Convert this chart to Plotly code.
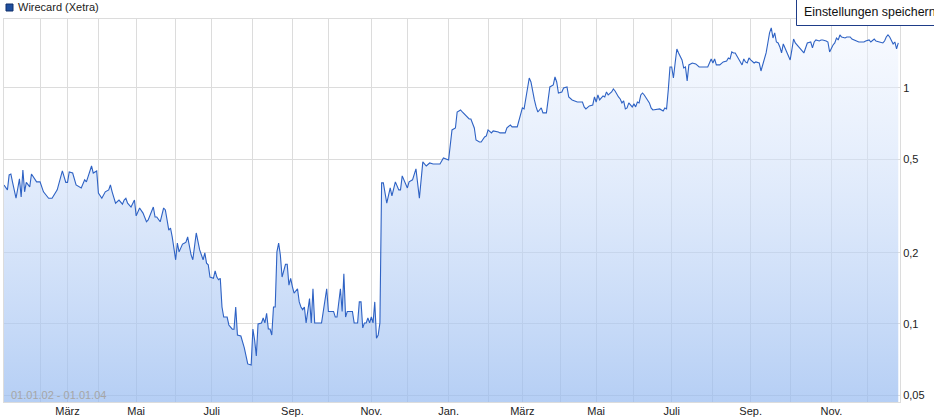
import math
import plotly.graph_objects as go

# ---------------- data ----------------
series_name = "Wirecard (Xetra)"
period_label = "01.01.02 - 01.01.04"
button_label = "Einstellungen speichern"

# trading-session number (0 = first session of 2002) and closing price in EUR
session = [0, 2, 3, 4, 5, 7, 9, 10, 11, 12, 13, 15, 16, 19, 21, 23, 26, 28, 31, 34, 36, 37, 38, 40, 42,
           45, 47, 48, 51, 52, 54, 55, 57, 59, 61, 62, 63, 65, 67, 69, 70, 71, 72, 74, 76, 77, 79, 81, 83,
           84, 87, 88, 89, 91, 93, 94, 95, 96, 97, 98, 100, 101, 102, 104, 105, 106, 107, 109, 110, 112,
           114, 116, 117, 118, 119, 120, 122, 123, 124, 125, 126, 127, 128, 130, 131, 133, 134, 135, 136,
           138, 140, 142, 144, 145, 146, 147, 148, 150, 151, 152, 153, 154, 155, 156, 157, 158, 159, 160,
           161, 162, 164, 165, 166, 167, 168, 169, 171, 172, 173, 174, 175, 176, 178, 179, 180, 181, 185,
           188, 189, 192, 193, 194, 196, 197, 198, 199, 200, 203, 204, 206, 207, 208, 209, 210, 211, 212,
           213, 214, 215, 216, 217, 218, 219, 220, 221, 223, 225, 226, 228, 230, 231, 232, 235, 236, 238,
           240, 242, 244, 246, 248, 250, 254, 256, 259, 261, 263, 264, 266, 267, 270, 271, 272, 274, 275,
           277, 278, 280, 281, 282, 284, 285, 288, 289, 292, 293, 295, 296, 299, 300, 302, 303, 304, 306,
           307, 308, 309, 310, 311, 313, 314, 316, 317, 318, 320, 321, 322, 323, 325, 326, 328, 329, 331,
           334, 337, 338, 339, 341, 343, 344, 345, 346, 347, 349, 350, 351, 352, 354, 355, 356, 358, 359,
           360, 361, 362, 363, 364, 366, 367, 368, 369, 370, 371, 372, 373, 374, 376, 377, 378, 382, 384,
           385, 386, 387, 388, 389, 390, 391, 392, 393, 395, 396, 397, 398, 399, 401, 403, 405, 407, 410,
           412, 413, 414, 415, 417, 419, 421, 422, 423, 424, 425, 426, 427, 429, 430, 431, 432, 433, 434,
           435, 436, 437, 438, 440, 441, 442, 444, 445, 446, 447, 448, 449, 450, 451, 452, 453, 454, 455,
           456, 458, 459, 460, 461, 462, 464, 465, 466, 468, 470, 471, 472, 473, 475, 476, 477, 479, 480,
           481, 482, 483, 484, 485, 486, 487, 488, 490, 491, 493, 494, 497, 498, 501, 502, 504, 505, 507,
           508, 510, 512, 513, 514, 515, 516, 518, 519, 520, 521]

price = [0.388, 0.370, 0.428, 0.432, 0.398, 0.341, 0.412, 0.345, 0.449, 0.363, 0.398, 0.381, 0.432,
         0.400, 0.400, 0.363, 0.341, 0.341, 0.370, 0.445, 0.398, 0.398, 0.441, 0.436, 0.388, 0.377,
         0.408, 0.400, 0.467, 0.436, 0.445, 0.359, 0.341, 0.363, 0.370, 0.388, 0.363, 0.325, 0.335,
         0.322, 0.335, 0.341, 0.325, 0.313, 0.335, 0.287, 0.310, 0.295, 0.271, 0.276, 0.313, 0.284,
         0.284, 0.271, 0.310, 0.304, 0.276, 0.250, 0.255, 0.234, 0.187, 0.220, 0.202, 0.218, 0.220,
         0.222, 0.234, 0.196, 0.187, 0.243, 0.206, 0.187, 0.200, 0.181, 0.178, 0.158, 0.156, 0.168,
         0.158, 0.154, 0.156, 0.118, 0.107, 0.107, 0.099, 0.095, 0.095, 0.118, 0.0898, 0.0889, 0.0792,
         0.0677, 0.0670, 0.0952, 0.0855, 0.0732, 0.100, 0.101, 0.106, 0.101, 0.111, 0.0952, 0.0952,
         0.0898, 0.118, 0.118, 0.202, 0.220, 0.196, 0.158, 0.179, 0.179, 0.146, 0.156, 0.144, 0.135,
         0.141, 0.124, 0.118, 0.115, 0.118, 0.101, 0.128, 0.101, 0.141, 0.101, 0.101, 0.141, 0.113,
         0.113, 0.107, 0.107, 0.141, 0.113, 0.163, 0.107, 0.113, 0.113, 0.101, 0.101, 0.124, 0.124,
         0.0962, 0.101, 0.101, 0.106, 0.101, 0.107, 0.101, 0.124, 0.087, 0.0898, 0.101, 0.396, 0.396,
         0.325, 0.377, 0.349, 0.400, 0.370, 0.370, 0.424, 0.377, 0.400, 0.408, 0.454, 0.341, 0.486,
         0.467, 0.481, 0.476, 0.476, 0.505, 0.495, 0.664, 0.677, 0.791, 0.807, 0.791, 0.754, 0.739,
         0.739, 0.677, 0.602, 0.590, 0.590, 0.620, 0.626, 0.664, 0.645, 0.658, 0.651, 0.645, 0.645,
         0.677, 0.697, 0.684, 0.684, 0.732, 0.823, 0.815, 0.916, 1.102, 1.060, 0.952, 0.890, 0.831,
         0.791, 0.823, 0.784, 0.784, 0.890, 1.010, 1.030, 1.113, 1.060, 0.952, 0.962, 1.000, 1.010,
         0.916, 0.890, 0.872, 0.872, 0.831, 0.815, 0.839, 0.847, 0.916, 0.872, 0.934, 0.890, 0.925,
         0.916, 0.962, 0.934, 0.962, 0.990, 0.971, 0.916, 0.898, 0.864, 0.881, 0.815, 0.823, 0.864,
         0.831, 0.856, 0.831, 0.872, 0.864, 0.934, 0.952, 0.934, 0.907, 0.864, 0.823, 0.807, 0.815,
         0.799, 0.823, 0.815, 0.981, 1.227, 1.227, 1.102, 1.276, 1.463, 1.407, 1.314, 1.215, 1.227,
         1.071, 1.252, 1.276, 1.264, 1.227, 1.227, 1.227, 1.327, 1.276, 1.327, 1.252, 1.252, 1.289,
         1.301, 1.340, 1.327, 1.421, 1.407, 1.407, 1.366, 1.276, 1.252, 1.327, 1.289, 1.276, 1.340,
         1.314, 1.289, 1.276, 1.289, 1.276, 1.180, 1.252, 1.407, 1.551, 1.711, 1.796, 1.628, 1.711,
         1.566, 1.551, 1.492, 1.407, 1.536, 1.478, 1.421, 1.314, 1.449, 1.612, 1.551, 1.521, 1.478,
         1.435, 1.407, 1.551, 1.566, 1.478, 1.566, 1.597, 1.581, 1.597, 1.597, 1.581, 1.566, 1.421,
         1.478, 1.521, 1.551, 1.628, 1.597, 1.677, 1.644, 1.628, 1.644, 1.644, 1.612, 1.581, 1.566,
         1.566, 1.581, 1.597, 1.566, 1.612, 1.581, 1.566, 1.551, 1.581, 1.644, 1.677, 1.644, 1.536,
         1.566, 1.463, 1.551]

# first session of every month, Jan 2002 ... Jan 2004
month_start_session = [0, 21, 37, 55, 77, 100, 121, 145, 168, 189, 214, 235, 259, 282, 302, 324,
                       345, 367, 389, 413, 435, 458, 482, 503, 522]
month_labels = ["", "", "März", "", "Mai", "", "Juli", "", "Sep.", "", "Nov.", "",
                "Jan.", "", "März", "", "Mai", "", "Juli", "", "Sep.", "", "Nov.", "", ""]

y_ticks = [0.05, 0.1, 0.2, 0.5, 1]
y_tick_labels = ["0,05", "0,1", "0,2", "0,5", "1"]

# ---------------- layout geometry ----------------
W, H = 934, 418
ML, MR, MT, MB = 4, 34, 19, 16
PW, PH = W - ML - MR, H - MT - MB
PX_PER_DECADE = 236.0
y_lo = math.log10(0.05) - 7 / PX_PER_DECADE
y_hi = y_lo + PH / PX_PER_DECADE
FONT = "Liberation Sans, Arial, sans-serif"


def px(xp):
    return (xp - ML) / PW


def py(yp):
    return (H - MB - yp) / PH


fig = go.Figure()
fig.add_trace(go.Scatter(
    x=session, y=price, mode="lines",
    line=dict(color="#2e62c4", width=1.1),
    fill="tozeroy",
    fillgradient=dict(type="vertical",
                      colorscale=[[0, "rgba(150,186,240,0.70)"], [1, "rgba(240,245,255,0.45)"]],
                      start=10 ** y_lo, stop=10 ** y_hi),
    hoverinfo="skip", name=series_name, showlegend=False,
))

fig.update_layout(
    width=W, height=H,
    margin=dict(l=ML, r=MR, t=MT, b=MB, pad=0, autoexpand=False),
    paper_bgcolor="white", plot_bgcolor="white",
    font=dict(family=FONT, size=11, color="#222222"),
    showlegend=False,
    xaxis=dict(range=[0, 522], tickmode="array", tickvals=month_start_session, ticktext=month_labels,
               showgrid=True, gridcolor="#dcdcdc", gridwidth=1, zeroline=False,
               showline=True, mirror=True, linecolor="#dcdcdc", linewidth=1, ticks="",
               ticklabelstandoff=-1, automargin=False,
               tickfont=dict(size=11, color="#222222"), fixedrange=True),
    yaxis=dict(type="log", range=[y_lo, y_hi], side="right", tickmode="array",
               tickvals=y_ticks, ticktext=y_tick_labels,
               showgrid=True, gridcolor="#dcdcdc", gridwidth=1, zeroline=False,
               showline=True, mirror=True, linecolor="#dcdcdc", linewidth=1, ticks="",
               automargin=False,
               tickfont=dict(size=11, color="#222222"), fixedrange=True),
)

shapes = [
    # legend swatch
    dict(type="rect", xref="paper", yref="paper", x0=px(6), x1=px(13), y0=py(11), y1=py(4),
         fillcolor="#1f4f9e", line=dict(color="#0f2f6a", width=1), layer="above"),
    # settings button
    dict(type="rect", xref="paper", yref="paper", x0=px(796.5), x1=px(980), y0=py(25.5), y1=py(-5),
         fillcolor="white", line=dict(color="#1e3c88", width=1), layer="above"),
]
annotations = [
    dict(text=series_name, xref="paper", yref="paper", x=px(16), y=py(7.5), xanchor="left",
         yanchor="middle", showarrow=False, font=dict(family=FONT, size=11, color="#222222")),
    dict(text=button_label, xref="paper", yref="paper", x=px(802), y=py(12), xanchor="left",
         yanchor="middle", showarrow=False, font=dict(family=FONT, size=12.4, color="#111111")),
    dict(text=period_label, xref="paper", yref="paper", x=px(9), y=py(395), xanchor="left",
         yanchor="middle", showarrow=False, font=dict(family=FONT, size=11, color="#a6a6a6")),
]
fig.update_layout(shapes=shapes, annotations=annotations)

fig.write_html("out.html", config=dict(displayModeBar=False),
               post_script="document.body.style.margin='0';document.body.style.overflow='hidden';")
